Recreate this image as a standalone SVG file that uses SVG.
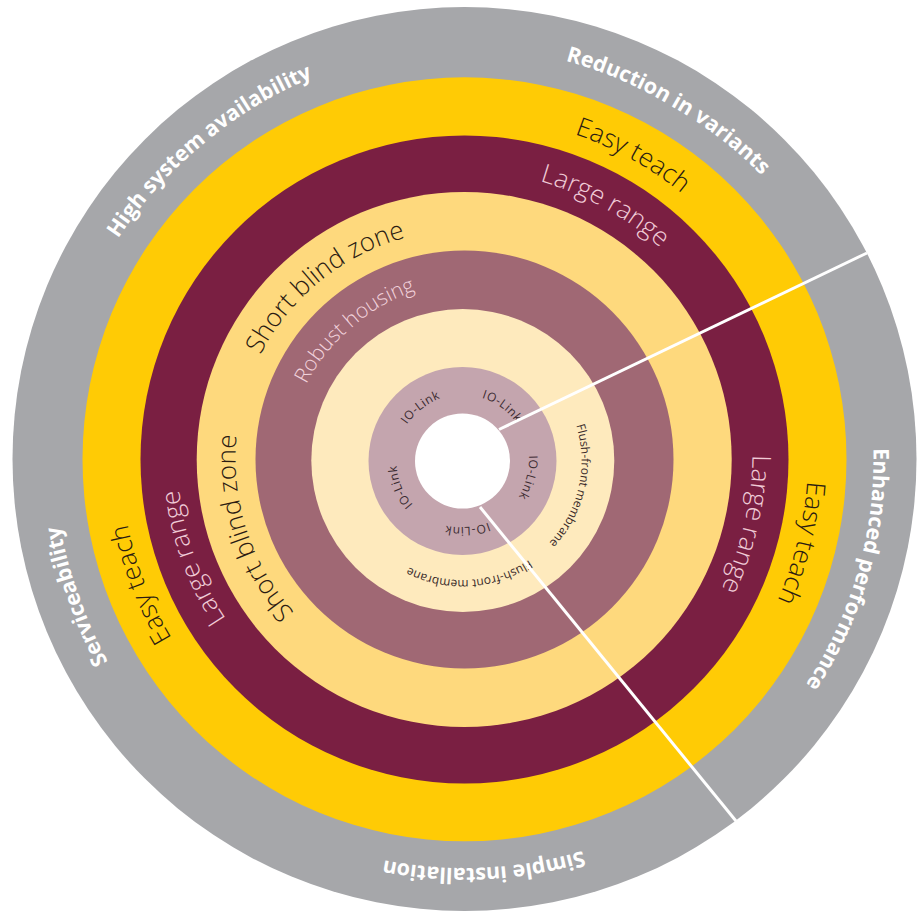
<svg xmlns="http://www.w3.org/2000/svg" xmlns:xlink="http://www.w3.org/1999/xlink" width="922" height="913" viewBox="0 0 922 913">
<style>
text{font-family:"Open Sans","Noto Sans","Liberation Sans",sans-serif;}
.outer{fill:#ffffff;font-weight:700;font-size:21.5px;}
.yel{fill:#2b1b12;font-weight:300;font-size:26px;}
.mar{fill:#f0cbd7;font-weight:300;font-size:26px;}
.lyel{fill:#2b1b12;font-weight:300;font-size:26px;}
.mau{fill:#f2d2dc;font-weight:300;font-size:21px;}
.crm{fill:#3a2a2a;font-weight:400;font-size:12px;}
.lmau{fill:#3a2a30;font-weight:400;font-size:12px;letter-spacing:0.6px;}
.conn{stroke:#ffffff;stroke-width:3;fill:none;}
</style>
<defs>
<path id="p1" d="M725.2,774.1 A409,409 0 1 1 203.8,143.9 A409,409 0 1 1 725.2,774.1"/>
<path id="p2" d="M258.2,812.1 A409,409 0 1 1 670.8,105.9 A409,409 0 1 1 258.2,812.1"/>
<path id="p3" d="M71.3,346.3 A409,409 0 1 1 857.7,571.7 A409,409 0 1 1 71.3,346.3"/>
<path id="p4" d="M445.2,50.4 A409,409 0 1 1 483.8,867.6 A409,409 0 1 1 445.2,50.4"/>
<path id="p5" d="M850.0,322.5 A409,409 0 1 1 79.0,595.5 A409,409 0 1 1 850.0,322.5"/>
<path id="p6" d="M298.2,759.0 A343,343 0 1 1 630.8,159.0 A343,343 0 1 1 298.2,759.0"/>
<path id="p7" d="M784.3,335.0 A343,343 0 1 1 144.7,583.0 A343,343 0 1 1 784.3,335.0"/>
<path id="p8" d="M131.7,376.0 A343,343 0 1 1 797.3,542.0 A343,343 0 1 1 131.7,376.0"/>
<path id="p9" d="M325.4,710.0 A287,287 0 1 1 603.6,208.0 A287,287 0 1 1 325.4,710.0"/>
<path id="p10" d="M734.2,360.8 A287,287 0 1 1 194.8,557.2 A287,287 0 1 1 734.2,360.8"/>
<path id="p11" d="M184.9,394.4 A287,287 0 1 1 744.1,523.6 A287,287 0 1 1 184.9,394.4"/>
<path id="p12" d="M608.6,637.0 A229,229 0 1 1 320.4,281.0 A229,229 0 1 1 608.6,637.0"/>
<path id="p13" d="M682.3,388.2 A229,229 0 1 1 246.7,529.8 A229,229 0 1 1 682.3,388.2"/>
<path id="p14" d="M576.8,590.5 A173,173 0 1 1 352.2,327.5 A173,173 0 1 1 576.8,590.5"/>
<path id="p15" d="M346.5,434.2 A119,119 0 1 1 578.5,487.8 A119,119 0 1 1 346.5,434.2"/>
<path id="p16" d="M455.2,342.2 A119,119 0 1 1 469.8,579.8 A119,119 0 1 1 455.2,342.2"/>
<path id="p17" d="M503.1,513.0 A66,66 0 1 1 421.9,409.0 A66,66 0 1 1 503.1,513.0"/>
<path id="p18" d="M423.7,514.4 A66,66 0 1 1 501.3,407.6 A66,66 0 1 1 423.7,514.4"/>
<path id="p19" d="M398.5,445.0 A66,66 0 1 1 526.5,477.0 A66,66 0 1 1 398.5,445.0"/>
<path id="p20" d="M457.9,395.2 A66,66 0 1 1 467.1,526.8 A66,66 0 1 1 457.9,395.2"/>
<path id="p21" d="M523.5,435.7 A66,66 0 1 1 401.5,486.3 A66,66 0 1 1 523.5,435.7"/>
</defs>
<rect width="922" height="913" fill="#ffffff"/>
<g id="ring-benefits">
<circle cx="464.5" cy="459" r="452" fill="#a6a7aa"/>
<text class="outer" text-anchor="middle"><textPath href="#p1" xlink:href="#p1" startOffset="50%">High system availability</textPath></text>
<text class="outer" text-anchor="middle"><textPath href="#p2" xlink:href="#p2" startOffset="50%">Reduction in variants</textPath></text>
<text class="outer" text-anchor="middle"><textPath href="#p3" xlink:href="#p3" startOffset="50%">Enhanced performance</textPath></text>
<text class="outer" text-anchor="middle"><textPath href="#p4" xlink:href="#p4" startOffset="50%">Simple installation</textPath></text>
<text class="outer" text-anchor="middle"><textPath href="#p5" xlink:href="#p5" startOffset="50%">Serviceability</textPath></text>
</g>
<g id="ring-easy-teach">
<circle cx="464.5" cy="459.3" r="382" fill="#ffcb05"/>
<text class="yel" text-anchor="middle"><textPath href="#p6" xlink:href="#p6" startOffset="50%">Easy teach</textPath></text>
<text class="yel" text-anchor="middle"><textPath href="#p7" xlink:href="#p7" startOffset="50%">Easy teach</textPath></text>
<text class="yel" text-anchor="middle"><textPath href="#p8" xlink:href="#p8" startOffset="50%">Easy teach</textPath></text>
</g>
<g id="ring-large-range">
<circle cx="464.5" cy="459.5" r="324" fill="#7a1f42"/>
<text class="mar" text-anchor="middle"><textPath href="#p9" xlink:href="#p9" startOffset="50%">Large range</textPath></text>
<text class="mar" text-anchor="middle"><textPath href="#p10" xlink:href="#p10" startOffset="50%">Large range</textPath></text>
<text class="mar" text-anchor="middle"><textPath href="#p11" xlink:href="#p11" startOffset="50%">Large range</textPath></text>
</g>
<g id="ring-short-blind-zone">
<circle cx="464.2" cy="459.5" r="267.5" fill="#fed97d"/>
<text class="lyel" text-anchor="middle"><textPath href="#p12" xlink:href="#p12" startOffset="50%">Short blind zone</textPath></text>
<text class="lyel" text-anchor="middle"><textPath href="#p13" xlink:href="#p13" startOffset="50%">Short blind zone</textPath></text>
</g>
<g id="ring-robust-housing">
<circle cx="464.5" cy="459.5" r="209" fill="#a06874"/>
<text class="mau" text-anchor="middle"><textPath href="#p14" xlink:href="#p14" startOffset="50%">Robust housing</textPath></text>
</g>
<g id="ring-flush-front">
<circle cx="462.8" cy="460.5" r="151.5" fill="#feeabd"/>
<text class="crm" text-anchor="middle"><textPath href="#p15" xlink:href="#p15" startOffset="50%">Flush-front membrane</textPath></text>
<text class="crm" text-anchor="middle"><textPath href="#p16" xlink:href="#p16" startOffset="50%">Flush-front membrane</textPath></text>
</g>
<g id="ring-io-link">
<circle cx="462.5" cy="461" r="94" fill="#c4a5ae"/>
<text class="lmau" text-anchor="middle"><textPath href="#p17" xlink:href="#p17" startOffset="50%">IO-Link</textPath></text>
<text class="lmau" text-anchor="middle"><textPath href="#p18" xlink:href="#p18" startOffset="50%">IO-Link</textPath></text>
<text class="lmau" text-anchor="middle"><textPath href="#p19" xlink:href="#p19" startOffset="50%">IO-Link</textPath></text>
<text class="lmau" text-anchor="middle"><textPath href="#p20" xlink:href="#p20" startOffset="50%">IO-Link</textPath></text>
<text class="lmau" text-anchor="middle"><textPath href="#p21" xlink:href="#p21" startOffset="50%">IO-Link</textPath></text>
</g>
<g id="core">
<circle cx="462.5" cy="461" r="47.5" fill="#ffffff"/>
</g>
<g id="connectors">
<line class="conn" x1="499" y1="429.5" x2="867" y2="253"/>
<line class="conn" x1="480" y1="507" x2="736" y2="821"/>
</g>
</svg>
